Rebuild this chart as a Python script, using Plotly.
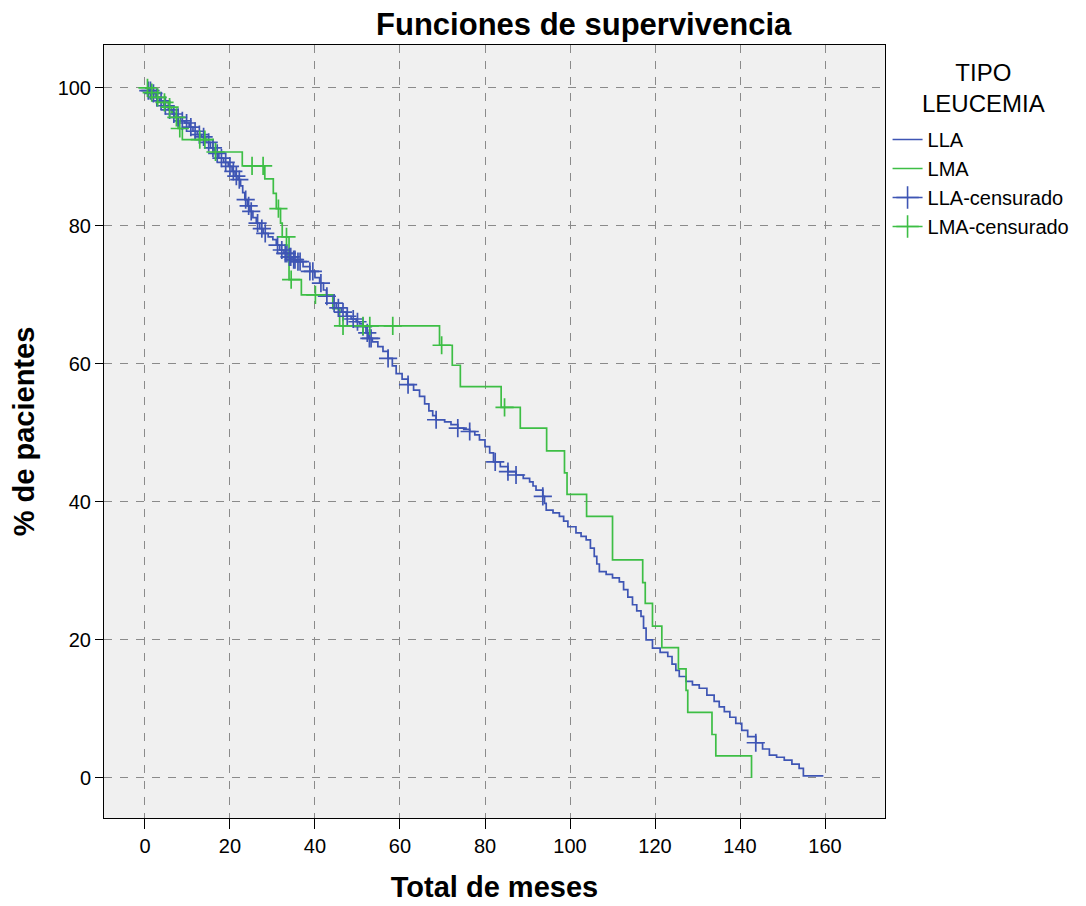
import plotly.graph_objects as go

# ---- Data (Kaplan-Meier survival, %) ----
lla_t = [0, 0.8, 1.6, 2.5, 3.4, 4.4, 5.5, 6.5, 7.5, 8.4, 9.4, 10.4, 11.3, 12.3, 13.3, 14.3,
         15.4, 16.4, 17.4, 18.5, 19.6, 20.5, 21.2, 21.9, 22.5, 23.0, 23.5, 24.1, 24.7, 25.4,
         26.2, 27.0, 27.8, 29.0, 30.1, 30.9, 31.7, 32.7, 33.7, 34.6, 35.6, 37.2, 38.8, 40.0,
         41.1, 42.0, 42.7, 44.2, 45.0, 46.2, 47.4, 48.5, 49.7, 50.5, 51.3, 52.0, 52.5, 53.5,
         54.8, 56.0, 57.2, 58.2, 59.1, 60.5, 61.9, 63.2, 64.6, 65.8, 66.8, 67.7, 68.5, 70.5,
         72.0, 73.6, 75.0, 76.4, 77.6, 78.7, 80.0, 81.1, 82.0, 83.6, 85.4, 87.3, 89.0, 90.5,
         91.3, 92.0, 93.6, 94.0, 94.4, 96.0, 97.5, 98.5, 99.5, 101.4, 102.6, 103.8, 104.8,
         105.7, 106.3, 106.9, 108.5, 110.0, 111.6, 112.6, 113.6, 114.7, 115.7, 116.7, 117.3,
         117.9, 119.4, 121.2, 123.0, 124.0, 124.9, 125.7, 127.3, 128.8, 130.4, 132.2, 133.9,
         135.1, 136.3, 137.6, 139.0, 140.4, 141.8, 143.7, 145.3, 146.9, 148.6, 150.4, 152.2,
         153.9, 154.9, 159.6]
lla_s = [100, 99.6, 99.2, 98.6, 98.1, 97.4, 96.8, 96.2, 95.7, 95.2, 94.9, 94.3, 93.7, 93.2,
         92.9, 92.1, 91.3, 90.5, 89.8, 89.2, 88.6, 87.9, 87.2, 86.7, 85.8, 84.8, 83.8, 82.9,
         82.1, 81.2, 80.4, 79.6, 78.9, 78.4, 78.0, 77.2, 76.5, 76.0, 75.5, 75.1, 74.8, 74.1,
         73.4, 72.5, 71.7, 70.7, 69.8, 68.8, 68.1, 67.5, 66.9, 66.5, 66.1, 65.8, 65.4, 64.5,
         63.7, 63.2, 62.5, 61.8, 60.8, 59.7, 58.6, 57.8, 57.0, 56.2, 55.3, 54.2, 53.2, 52.5,
         51.9, 51.6, 51.2, 50.7, 50.5, 50.2, 49.7, 49.0, 48.0, 47.1, 45.8, 45.1, 44.4, 43.9,
         43.4, 42.9, 42.3, 41.7, 40.8, 39.8, 38.8, 38.4, 37.9, 37.2, 36.4, 35.5, 35.0, 34.5,
         33.3, 32.1, 31.0, 29.9, 29.5, 29.0, 28.4, 27.3, 26.2, 25.1, 24.2, 23.4, 21.7, 20.0,
         18.8, 18.2, 17.6, 16.5, 15.6, 14.7, 14.0, 13.5, 13.0, 12.0, 11.1, 10.3, 9.6, 8.8,
         7.9, 6.9, 6.0, 5.1, 4.2, 3.3, 3.0, 2.6, 2.0, 1.4, 0.3, 0.3]

lma_t = [0, 1.2, 2.5, 3.8, 5.5, 6.3, 7.0, 7.8, 8.8, 16.0, 22.9, 28.2, 30.2, 30.9, 31.9, 32.3,
         33.9, 36.8, 44.2, 45.8, 69.3, 72.3, 74.2, 83.8, 88.3, 94.5, 98.7, 99.3, 103.9, 110.0,
         117.1, 117.7, 119.4, 121.6, 125.5, 127.3, 127.7, 133.4, 134.3, 142.7]
lma_s = [100, 99.3, 98.6, 97.9, 97.2, 96.4, 95.7, 94.1, 92.5, 90.7, 88.7, 86.8, 84.7, 82.5,
         80.4, 78.4, 72.2, 70.0, 68.0, 65.5, 62.7, 59.8, 56.7, 53.7, 50.7, 47.4, 44.2, 41.1,
         37.9, 31.6, 28.3, 25.3, 22.0, 18.9, 15.8, 12.7, 9.5, 6.3, 3.2, 0.0]

lla_cens_t = [0.8, 1.3, 2.0, 2.8, 3.8, 4.8, 5.8, 6.8, 7.8, 8.8, 9.8, 10.8, 11.8, 12.8, 13.8,
              15.0, 16.0, 17.0, 18.0, 19.0, 20.0, 20.8, 21.5, 22.2, 23.7, 24.4, 25.0, 26.5,
              27.5, 28.3, 31.2, 32.2, 33.0, 33.4, 34.0, 34.3, 35.0, 35.3, 36.0, 36.5, 38.8,
              39.5, 41.4, 42.8, 44.5, 45.5, 46.6, 47.6, 49.0, 50.0, 51.3, 52.3, 52.8, 53.2,
              57.2, 61.9, 68.5, 73.6, 76.4, 82.4, 85.4, 87.3, 93.6, 143.7]
lla_cens_s = [99.6, 99.6, 99.2, 98.6, 98.1, 97.4, 96.8, 96.2, 95.7, 95.2, 94.9, 94.3, 93.7,
              93.2, 92.9, 92.1, 91.3, 90.5, 89.8, 89.2, 88.6, 87.9, 87.2, 86.7, 83.8, 82.9,
              82.1, 80.4, 79.6, 78.9, 77.2, 76.5, 76.0, 76.0, 75.5, 75.5, 75.1, 75.1, 74.8,
              74.8, 73.4, 73.4, 71.7, 69.8, 68.8, 68.1, 67.5, 66.9, 66.5, 66.1, 65.4, 64.5,
              63.7, 63.7, 60.8, 57.0, 51.9, 50.7, 50.2, 45.8, 44.4, 43.9, 40.8, 5.1]

lma_cens_t = [0.6, 1.6, 3.0, 4.6, 5.8, 7.4, 8.2, 12.9, 14.1, 16.6, 25.2, 27.8, 31.4, 33.3,
              34.4, 40.1, 46.6, 51.3, 52.9, 58.3, 69.8, 84.6]
lma_cens_s = [100, 99.3, 98.6, 97.9, 97.2, 95.7, 94.1, 92.5, 92.5, 90.7, 88.7, 88.7, 82.5,
              78.4, 72.2, 70.0, 65.5, 65.5, 65.5, 65.5, 62.7, 53.7]

x_ticks = [0, 20, 40, 60, 80, 100, 120, 140, 160]
y_ticks = [0, 20, 40, 60, 80, 100]

BLUE = "#3E55B4"
GREEN = "#3DBE45"
FONT = "Liberation Sans"

fig = go.Figure()

fig.add_trace(go.Scatter(x=lla_t, y=lla_s, mode="lines", name="LLA",
                         line=dict(color=BLUE, width=1.7, shape="hv")))
fig.add_trace(go.Scatter(x=lma_t, y=lma_s, mode="lines", name="LMA",
                         line=dict(color=GREEN, width=1.7, shape="hv")))

fig.add_trace(go.Scatter(x=lla_cens_t, y=lla_cens_s, mode="markers", showlegend=False,
                         marker=dict(symbol="cross-thin", size=13, color=BLUE,
                                     line=dict(width=1.7, color=BLUE))))
fig.add_trace(go.Scatter(x=lma_cens_t, y=lma_cens_s, mode="markers", showlegend=False,
                         marker=dict(symbol="cross-thin", size=13, color=GREEN,
                                     line=dict(width=1.7, color=GREEN))))

# legend-only entries for censored marks
fig.add_trace(go.Scatter(x=[None], y=[None], mode="lines+markers", name="LLA-censurado",
                         line=dict(color=BLUE, width=1.7),
                         marker=dict(symbol="cross-thin", size=16, color=BLUE,
                                     line=dict(width=1.6, color=BLUE))))
fig.add_trace(go.Scatter(x=[None], y=[None], mode="lines+markers", name="LMA-censurado",
                         line=dict(color=GREEN, width=1.7),
                         marker=dict(symbol="cross-thin", size=16, color=GREEN,
                                     line=dict(width=1.6, color=GREEN))))

axis_common = dict(
    showline=True, mirror=True, linecolor="#000000", linewidth=1,
    ticks="outside", tickcolor="#000000", tickwidth=1,
    showgrid=True, gridcolor="#8a8a8a", gridwidth=1, griddash="8px,8px",
    zeroline=False, tickfont=dict(family=FONT, size=20, color="#000000"),
    automargin=False,
)

# The page body adds an 8px offset, so the figure is sized 1078x898.
fig.update_layout(
    width=1078, height=898,
    margin=dict(l=96, r=200, t=37, b=88),
    paper_bgcolor="white", plot_bgcolor="#F0F0F0",
    font=dict(family=FONT, color="#000000"),
    title=dict(text="Funciones de supervivencia", x=0.534, xref="container",
               xanchor="center", y=0.9944, yref="container", yanchor="top",
               pad=dict(t=0, b=0, l=0, r=0),
               font=dict(family=FONT, size=31, weight="bold", color="#000000")),
    xaxis=dict(axis_common, range=[-9.63, 174.1], tickvals=x_ticks, ticklen=10,
               title=dict(text="Total de meses", standoff=20,
                          font=dict(family=FONT, size=29, weight="bold"))),
    yaxis=dict(axis_common, range=[-5.8, 106.2], tickvals=y_ticks, ticklen=8,
               title=dict(text="% de pacientes", standoff=16,
                          font=dict(family=FONT, size=29, weight="bold"))),
    legend=dict(x=1.002, xanchor="left", y=0.903, yanchor="top",
                bgcolor="rgba(0,0,0,0)", tracegroupgap=0,
                font=dict(family=FONT, size=20, color="#000000")),
    annotations=[dict(text="TIPO<br>LEUCEMIA", xref="paper", yref="paper",
                      x=1.1266, y=0.944, xanchor="center", yanchor="middle",
                      align="center", showarrow=False,
                      font=dict(family=FONT, size=24, color="#000000"))],
    showlegend=True,
)

fig.write_html("out.html")
